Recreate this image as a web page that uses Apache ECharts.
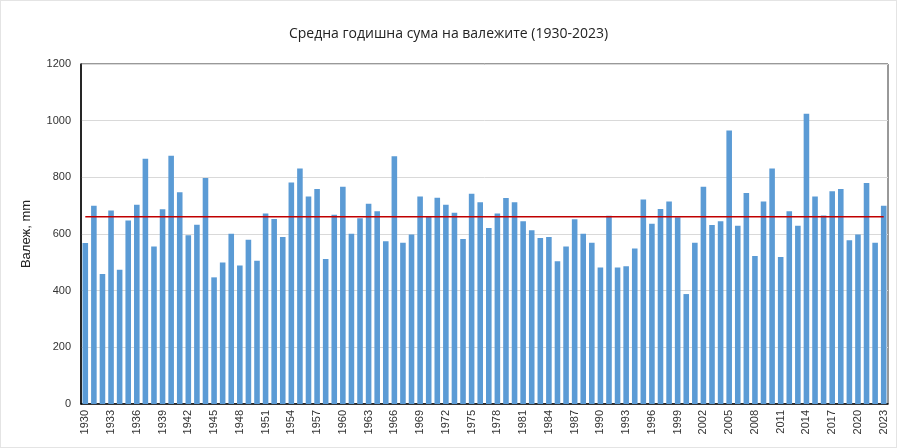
<!DOCTYPE html>
<html><head><meta charset="utf-8">
<script src="https://cdn.jsdelivr.net/npm/echarts@6/dist/echarts.min.js"></script>
<style>html,body{margin:0;padding:0;background:#fff}#c{width:897px;height:448px;box-sizing:border-box;border:1px solid #e4e4e4}</style>
</head><body><div id="c"></div>
<script>
const years = [];
for (let y = 1930; y <= 2023; y++) years.push(String(y));
const precipitation = [
568,700,459,683,474,648,703,866,556,687,876,747,596,633,798,447,499,601,489,580,
506,672,653,589,782,831,732,759,512,668,767,601,656,707,680,574,874,569,598,732,
662,728,703,675,582,742,712,621,672,727,712,645,613,586,589,504,556,652,601,569,
482,664,482,486,549,722,636,688,715,659,388,569,767,632,645,965,629,745,522,715,
831,519,680,629,1024,732,665,751,759,578,598,780,569,700
];
const meanValue = 661;
const yTicks = [0,200,400,600,800,1000,1200];
const meanLine = years.map(() => meanValue);

const chart = echarts.init(document.getElementById('c'));
chart.setOption({
  animation: false,
  title: {text: 'Средна годишна сума на валежите (1930-2023)', left: 'center', top: 21,
    textStyle: {fontFamily: 'Open Sans', fontWeight: 'normal', fontSize: 14, color: '#222'}},
  grid: {left: 80, right: 8, top: 63, bottom: 43, show: true, borderColor: '#333', borderWidth: 1},
  xAxis: {type: 'category', data: years,
    axisLine: {lineStyle: {color: '#000', width: 1.5}},
    axisTick: {show: false},
    axisLabel: {interval: 2, rotate: 90, fontSize: 11, color: '#333', fontFamily: 'Liberation Sans', margin: 6}},
  yAxis: {type: 'value', min: yTicks[0], max: yTicks[yTicks.length-1], interval: 200,
    name: 'Валеж, mm', nameLocation: 'middle', nameGap: 48,
    nameTextStyle: {fontSize: 13, color: '#222', fontFamily: 'Liberation Sans'},
    axisLine: {show: true, lineStyle: {color: '#000', width: 1.5}},
    axisTick: {show: false},
    axisLabel: {fontSize: 11, color: '#333', fontFamily: 'Liberation Sans', margin: 10,
      formatter: v => String(v)},
    splitLine: {lineStyle: {color: '#d9d9d9'}}},
  series: [
    {type: 'bar', data: precipitation, barCategoryGap: '35%', itemStyle: {color: '#5B9BD5'}},
    {type: 'line', data: meanLine, symbol: 'none', silent: true,
      lineStyle: {color: '#C00000', width: 1.5}}
  ]
});
</script></body></html>
